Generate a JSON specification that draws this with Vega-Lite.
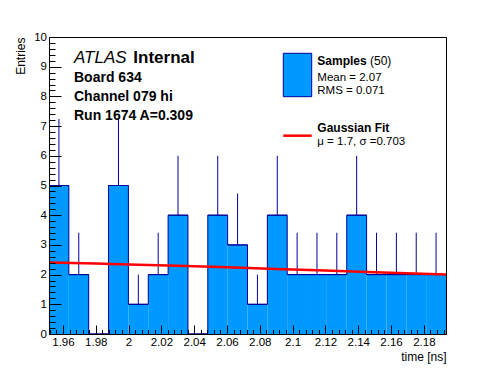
{
  "$schema": "https://vega.github.io/schema/vega-lite/v6.json",
  "width": 397,
  "height": 297,
  "autosize": {"type": "none"},
  "padding": {"left": 49, "top": 37, "right": 50, "bottom": 38},
  "background": "white",
  "config": {
    "view": {"stroke": "black", "strokeWidth": 1},
    "font": "Liberation Sans"
  },
  "datasets": {
    "hist": [
      {"lo": 1.9515, "hi": 1.9636, "mid": 1.95755, "n": 5, "up": 7.24},
      {"lo": 1.9636, "hi": 1.9757, "mid": 1.96965, "n": 2, "up": 3.41},
      {"lo": 1.9757, "hi": 1.9878, "mid": 1.98175, "n": 0, "up": 0},
      {"lo": 1.9878, "hi": 1.9999, "mid": 1.99385, "n": 5, "up": 7.24},
      {"lo": 1.9999, "hi": 2.012, "mid": 2.00595, "n": 1, "up": 2},
      {"lo": 2.012, "hi": 2.0241, "mid": 2.01805, "n": 2, "up": 3.41},
      {"lo": 2.0241, "hi": 2.0362, "mid": 2.03015, "n": 4, "up": 6},
      {"lo": 2.0362, "hi": 2.0483, "mid": 2.04225, "n": 0, "up": 0},
      {"lo": 2.0483, "hi": 2.0604, "mid": 2.05435, "n": 4, "up": 6},
      {"lo": 2.0604, "hi": 2.0725, "mid": 2.06645, "n": 3, "up": 4.73},
      {"lo": 2.0725, "hi": 2.0846, "mid": 2.07855, "n": 1, "up": 2},
      {"lo": 2.0846, "hi": 2.0967, "mid": 2.09065, "n": 4, "up": 6},
      {"lo": 2.0967, "hi": 2.1088, "mid": 2.10275, "n": 2, "up": 3.41},
      {"lo": 2.1088, "hi": 2.1209, "mid": 2.11485, "n": 2, "up": 3.41},
      {"lo": 2.1209, "hi": 2.133, "mid": 2.12695, "n": 2, "up": 3.41},
      {"lo": 2.133, "hi": 2.1451, "mid": 2.13905, "n": 4, "up": 6},
      {"lo": 2.1451, "hi": 2.1572, "mid": 2.15115, "n": 2, "up": 3.41},
      {"lo": 2.1572, "hi": 2.1693, "mid": 2.16325, "n": 2, "up": 3.41},
      {"lo": 2.1693, "hi": 2.1814, "mid": 2.17535, "n": 2, "up": 3.41},
      {"lo": 2.1814, "hi": 2.1935, "mid": 2.18745, "n": 2, "up": 3.41}
    ],
    "fit": [
      {"t": 1.9515, "f": 2.41},
      {"t": 1.98, "f": 2.37},
      {"t": 2.0, "f": 2.34},
      {"t": 2.03, "f": 2.3},
      {"t": 2.06, "f": 2.25},
      {"t": 2.09, "f": 2.19},
      {"t": 2.12, "f": 2.14},
      {"t": 2.15, "f": 2.08},
      {"t": 2.1935, "f": 2.0}
    ],
    "one": [{}]
  },
  "resolve": {"axis": {"x": "independent", "y": "independent"}},
  "layer": [
    {
      "data": {"name": "hist"},
      "mark": {"type": "rect", "fill": "#0099ff", "strokeWidth": 0},
      "encoding": {
        "x": {
          "field": "lo", "type": "quantitative",
          "scale": {"domain": [1.9515, 2.1935], "nice": false, "zero": false},
          "axis": {
            "orient": "bottom",
            "values": [1.96,1.98,2,2.02,2.04,2.06,2.08,2.1,2.12,2.14,2.16,2.18],
            "format": "~g",
            "tickSize": -9,
            "tickColor": "black", "tickWidth": 1,
            "domainColor": "black", "domainWidth": 1,
            "grid": false,
            "labelFont": "Liberation Sans", "labelFontSize": 11.5, "labelColor": "black",
            "labelPadding": 11, "labelBaseline": "top", "labelFlush": false, "labelOverlap": false,
            "title": "time [ns]",
            "titleFont": "Liberation Sans", "titleFontSize": 12, "titleFontWeight": "normal", "titleColor": "black",
            "titleX": 397, "titleY": 26, "titleAlign": "right", "titleBaseline": "alphabetic", "titleAngle": 0,
            "zindex": 1
          }
        },
        "x2": {"field": "hi"},
        "y": {
          "field": "n", "type": "quantitative",
          "scale": {"domain": [0, 10], "nice": false},
          "axis": {
            "orient": "left",
            "values": [0,0.2,0.4,0.6,0.8,1,1.2,1.4,1.6,1.8,2,2.2,2.4,2.6,2.8,3,3.2,3.4,3.6,3.8,4,4.2,4.4,4.6,4.8,5,5.2,5.4,5.6,5.8,6,6.2,6.4,6.6,6.8,7,7.2,7.4,7.6,7.8,8,8.2,8.4,8.6,8.8,9,9.2,9.4,9.6,9.8,10],
            "labelExpr": "datum.value % 1 === 0 ? format(datum.value, 'd') : ''",
            "tickSize": {"condition": {"test": "datum.value % 1 === 0", "value": -12}, "value": -6},
            "tickColor": "black", "tickWidth": 1,
            "domainColor": "black", "domainWidth": 1,
            "grid": false,
            "labelFont": "Liberation Sans", "labelFontSize": 11.5, "labelColor": "black",
            "labelPadding": 14.5, "labelFlush": false, "labelOverlap": false,
            "title": "Entries",
            "titleFont": "Liberation Sans", "titleFontSize": 12, "titleFontWeight": "normal", "titleColor": "black",
            "titleX": -25, "titleY": 0, "titleAngle": 270, "titleAlign": "right", "titleBaseline": "alphabetic",
            "zindex": 1
          }
        },
        "y2": {"datum": 0}
      }
    },
    {
      "data": {"name": "hist"},
      "mark": {"type": "line", "interpolate": "step-after", "stroke": "#000099", "strokeWidth": 1},
      "encoding": {
        "x": {
          "field": "lo", "type": "quantitative",
          "axis": {
            "orient": "bottom",
            "values": [1.952,1.956,1.964,1.968,1.972,1.976,1.984,1.988,1.992,1.996,2.004,2.008,2.012,2.016,2.024,2.028,2.032,2.036,2.044,2.048,2.052,2.056,2.064,2.068,2.072,2.076,2.084,2.088,2.092,2.096,2.104,2.108,2.112,2.116,2.124,2.128,2.132,2.136,2.144,2.148,2.152,2.156,2.164,2.168,2.172,2.176,2.184,2.188,2.192],
            "labels": false, "domain": false, "grid": false, "title": null,
            "tickSize": -4.5, "tickColor": "black", "tickWidth": 1,
            "zindex": 1
          }
        },
        "y": {"field": "n", "type": "quantitative", "axis": null}
      }
    },
    {
      "data": {"name": "hist"},
      "mark": {"type": "rule", "stroke": "#000099", "strokeWidth": 1},
      "encoding": {
        "x": {"field": "lo", "type": "quantitative", "axis": null},
        "x2": {"field": "hi"},
        "y": {"field": "n", "type": "quantitative", "axis": null}
      }
    },
    {
      "data": {"name": "hist"},
      "transform": [{"filter": "datum.n > 0"}],
      "mark": {"type": "rule", "stroke": "#000099", "strokeWidth": 1},
      "encoding": {
        "x": {"field": "mid", "type": "quantitative", "axis": null},
        "y": {
          "field": "n", "type": "quantitative",
          "axis": {"orient": "right", "labels": false, "ticks": false, "grid": false, "domain": true, "domainColor": "black", "domainWidth": 1, "title": null, "zindex": 1}
        },
        "y2": {"field": "up"}
      }
    },
    {
      "data": {"name": "fit"},
      "mark": {"type": "line", "stroke": "#ff0000", "strokeWidth": 2.5},
      "encoding": {
        "x": {"field": "t", "type": "quantitative", "axis": null},
        "y": {"field": "f", "type": "quantitative", "axis": null}
      }
    },
    {
      "data": {"name": "one"},
      "mark": {"type": "text", "text": "ATLAS", "font": "Liberation Sans", "fontStyle": "italic", "fontSize": 17, "align": "left", "baseline": "alphabetic", "fill": "black"},
      "encoding": {"x": {"datum": 1.96674, "type": "quantitative", "axis": null}, "y": {"datum": 9.125, "type": "quantitative", "axis": null}}
    },
    {
      "data": {"name": "one"},
      "mark": {"type": "text", "text": "Internal", "font": "Liberation Sans", "fontWeight": "bold", "fontSize": 17, "align": "left", "baseline": "alphabetic", "fill": "black"},
      "encoding": {"x": {"datum": 2.00289, "type": "quantitative", "axis": null}, "y": {"datum": 9.125, "type": "quantitative", "axis": null}}
    },
    {
      "data": {"name": "one"},
      "mark": {"type": "text", "text": "Board 634", "font": "Liberation Sans", "fontWeight": "bold", "fontSize": 14, "align": "left", "baseline": "alphabetic", "fill": "black"},
      "encoding": {"x": {"datum": 1.96674, "type": "quantitative", "axis": null}, "y": {"datum": 8.495, "type": "quantitative", "axis": null}}
    },
    {
      "data": {"name": "one"},
      "mark": {"type": "text", "text": "Channel 079 hi", "font": "Liberation Sans", "fontWeight": "bold", "fontSize": 14, "align": "left", "baseline": "alphabetic", "fill": "black"},
      "encoding": {"x": {"datum": 1.96674, "type": "quantitative", "axis": null}, "y": {"datum": 7.845, "type": "quantitative", "axis": null}}
    },
    {
      "data": {"name": "one"},
      "mark": {"type": "text", "text": "Run 1674 A=0.309", "font": "Liberation Sans", "fontWeight": "bold", "fontSize": 14, "align": "left", "baseline": "alphabetic", "fill": "black"},
      "encoding": {"x": {"datum": 1.96674, "type": "quantitative", "axis": null}, "y": {"datum": 7.205, "type": "quantitative", "axis": null}}
    },
    {
      "data": {"name": "one"},
      "mark": {"type": "rect", "fill": "#0099ff", "stroke": "#000099", "strokeWidth": 1},
      "encoding": {
        "x": {"datum": 2.09432, "type": "quantitative", "axis": null},
        "x2": {"datum": 2.11163},
        "y": {"datum": 9.451, "type": "quantitative", "axis": null},
        "y2": {"datum": 7.99}
      }
    },
    {
      "data": {"name": "one"},
      "mark": {"type": "rule", "stroke": "#ff0000", "strokeWidth": 2.5},
      "encoding": {
        "x": {"datum": 2.09432, "type": "quantitative", "axis": null},
        "x2": {"datum": 2.11163},
        "y": {"datum": 6.677, "type": "quantitative", "axis": null}
      }
    },
    {
      "data": {"name": "one"},
      "mark": {"type": "text", "text": "Samples", "font": "Liberation Sans", "fontWeight": "bold", "fontSize": 12, "align": "left", "baseline": "alphabetic", "fill": "black"},
      "encoding": {"x": {"datum": 2.11505, "type": "quantitative", "axis": null}, "y": {"datum": 9.057, "type": "quantitative", "axis": null}}
    },
    {
      "data": {"name": "one"},
      "mark": {"type": "text", "text": "(50)", "font": "Liberation Sans", "fontSize": 12, "align": "left", "baseline": "alphabetic", "fill": "black"},
      "encoding": {"x": {"datum": 2.14717, "type": "quantitative", "axis": null}, "y": {"datum": 9.057, "type": "quantitative", "axis": null}}
    },
    {
      "data": {"name": "one"},
      "mark": {"type": "text", "text": "Mean = 2.07", "font": "Liberation Sans", "fontSize": 11.5, "align": "left", "baseline": "alphabetic", "fill": "black"},
      "encoding": {"x": {"datum": 2.11505, "type": "quantitative", "axis": null}, "y": {"datum": 8.535, "type": "quantitative", "axis": null}}
    },
    {
      "data": {"name": "one"},
      "mark": {"type": "text", "text": "RMS = 0.071", "font": "Liberation Sans", "fontSize": 11.5, "align": "left", "baseline": "alphabetic", "fill": "black"},
      "encoding": {"x": {"datum": 2.11505, "type": "quantitative", "axis": null}, "y": {"datum": 8.081, "type": "quantitative", "axis": null}}
    },
    {
      "data": {"name": "one"},
      "mark": {"type": "text", "text": "Gaussian Fit", "font": "Liberation Sans", "fontWeight": "bold", "fontSize": 12, "align": "left", "baseline": "alphabetic", "fill": "black"},
      "encoding": {"x": {"datum": 2.11505, "type": "quantitative", "axis": null}, "y": {"datum": 6.795, "type": "quantitative", "axis": null}}
    },
    {
      "data": {"name": "one"},
      "mark": {"type": "text", "text": "μ = 1.7, σ =0.703", "font": "Liberation Sans", "fontSize": 11.5, "align": "left", "baseline": "alphabetic", "fill": "black"},
      "encoding": {"x": {"datum": 2.11505, "type": "quantitative", "axis": null}, "y": {"datum": 6.347, "type": "quantitative", "axis": null}}
    }
  ]
}
